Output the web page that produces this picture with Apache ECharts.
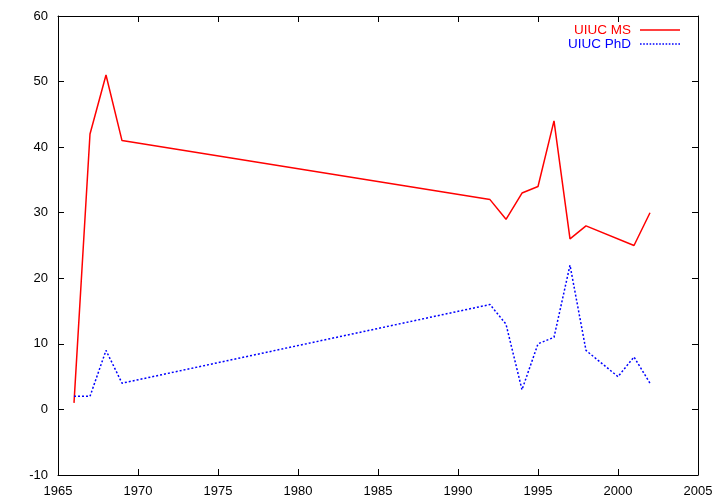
<!DOCTYPE html>
<html><head><meta charset="utf-8">
<script src="https://cdn.jsdelivr.net/npm/echarts@6/dist/echarts.min.js"></script>
<style>html,body{margin:0;padding:0;background:#fff}#c{width:720px;height:504px}</style>
</head><body><div id="c"></div>
<script>
const msYears = [1966, 1967, 1968, 1969, 1992, 1993, 1994, 1995, 1996, 1997, 1998, 2001, 2002];
const msValues = [1, 42, 51, 41, 32, 29, 33, 34, 44, 26, 28, 25, 30];
const phdYears = [1966, 1967, 1968, 1969, 1992, 1993, 1994, 1995, 1996, 1997, 1998, 2000, 2001, 2002];
const phdValues = [2, 2, 9, 4, 16, 13, 3, 10, 11, 22, 9, 5, 8, 4];
const seriesNames = ['UIUC MS', 'UIUC PhD'];

const font = 'Liberation Sans';
const zip = (xs, ys) => xs.map((x, i) => [x, ys[i]]);
// legend sample icons (style only)
const solidIcon = 'path://M0,0h40v1.5h-40z';
let dotted = '';
for (let i = 0; i <= 38; i += 3) dotted += 'M' + i + ',0h1.5v1.5h-1.5z';
const dottedIcon = 'path://' + dotted;

const chart = echarts.init(document.getElementById('c'));
const axisLine = {show: true, onZero: false, lineStyle: {color: '#000', width: 1}};
const tick = {show: true, inside: true, length: 6, lineStyle: {color: '#000'}};
chart.setOption({
  animation: false,
  backgroundColor: '#fff',
  grid: {left: 58, right: 22, top: 16, bottom: 29, containLabel: false},
  legend: {
    right: 40, top: 23, orient: 'vertical', align: 'right', itemGap: 0,
    itemWidth: 40, itemHeight: 14, padding: 0,
    textStyle: {fontFamily: font, fontSize: 13.5, padding: [0, 4, 0, 0]},
    data: [
      {name: seriesNames[0], icon: solidIcon, itemStyle: {color: '#ff0000'}, textStyle: {color: '#ff0000'}},
      {name: seriesNames[1], icon: dottedIcon, itemStyle: {color: '#0000ff'}, textStyle: {color: '#0000ff'}}
    ]
  },
  xAxis: [
    {type: 'value', min: 1965, max: 2005, interval: 5, position: 'bottom',
     axisLine, axisTick: tick, splitLine: {show: false},
     axisLabel: {color: '#000', fontFamily: font, fontSize: 13, margin: 10, formatter: v => String(v)}},
    {type: 'value', min: 1965, max: 2005, interval: 5, position: 'top',
     axisLine, axisTick: tick, splitLine: {show: false}, axisLabel: {show: false}}
  ],
  yAxis: [
    {type: 'value', min: -10, max: 60, interval: 10, position: 'left',
     axisLine, axisTick: tick, splitLine: {show: false},
     axisLabel: {color: '#000', fontFamily: font, fontSize: 13, margin: 10, formatter: v => String(v)}},
    {type: 'value', min: -10, max: 60, interval: 10, position: 'right',
     axisLine, axisTick: tick, splitLine: {show: false}, axisLabel: {show: false}}
  ],
  series: [
    {name: seriesNames[0], type: 'line', data: zip(msYears, msValues), symbol: 'none',
     itemStyle: {color: '#ff0000'}, lineStyle: {color: '#ff0000', width: 1.5}},
    {name: seriesNames[1], type: 'line', data: zip(phdYears, phdValues), symbol: 'none',
     itemStyle: {color: '#0000ff'}, lineStyle: {color: '#0000ff', width: 1.5, type: [2, 2]}}
  ]
});
</script></body></html>
